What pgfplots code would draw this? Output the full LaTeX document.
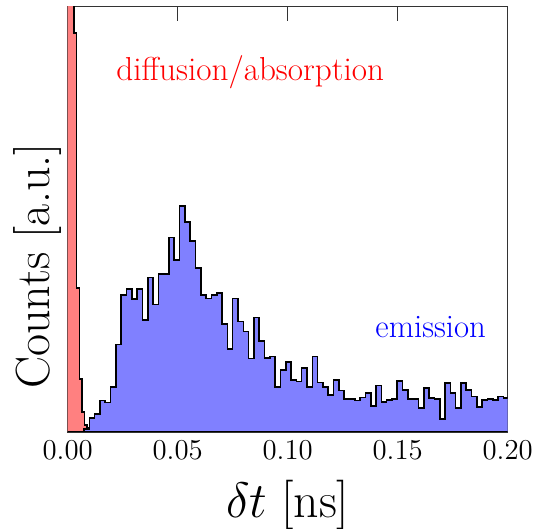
\documentclass[border=0pt]{standalone}
\usepackage{pgfplots}
\pgfplotsset{compat=1.18}
\definecolor{histred}{RGB}{255,128,128}
\definecolor{histblue}{RGB}{128,128,255}
\begin{document}
\begin{tikzpicture}
\useasboundingbox (-33.85pt,-48.5pt) rectangle (234.15pt,216pt);
\begin{axis}[
  at={(0,0)}, anchor=south west,
  scale only axis, width=220pt, height=212.75pt,
  xmin=0, xmax=0.2, ymin=0, ymax=425.5,
  xtick={0,0.05,0.1,0.15,0.2},
  ytick=\empty,
  tick align=inside,
  major tick length=7.5pt,
  scaled x ticks=false,
  xticklabel style={font=\fontsize{14.7}{17}\selectfont, yshift=-1pt, /pgf/number format/fixed, /pgf/number format/fixed zerofill, /pgf/number format/precision=2},
  axis line style={line width=0.6pt, black!80},
  every tick/.style={line width=0.6pt, black!80},
  xlabel={$\delta t\ [\mathrm{ns}]$},
  xlabel style={font=\fontsize{23.5}{26}\selectfont, at={(axis description cs:0.5,0)}, anchor=base, yshift=-43pt},
  ylabel={Counts [a.u.]},
  ylabel style={font=\fontsize{24}{27}\selectfont, at={(axis description cs:0,0.39)}, anchor=base, rotate=0, yshift=9pt},
  clip=true,
]
\addplot[const plot, fill=histred, draw=black, line width=0.8pt] coordinates {
(-0.001,800) (0.00287,399) (0.00408,144) (0.00528,53) (0.00649,20) (0.0077,7) (0.0089,3.7) (0.0101,1.5) (0.0113,0.5) (0.0125,0)
} \closedcycle;
\addplot[const plot, fill=histblue, draw=black, line width=0.8pt] coordinates {
(0.00743,3) (0.00984,13.7) (0.01225,17.7) (0.01466,31.3) (0.01708,29.3) (0.01949,44.7)
(0.02190,87.3) (0.02432,137) (0.02673,142.7) (0.02914,133) (0.03156,142.7)
(0.03397,112) (0.03638,154.3) (0.03880,127.3) (0.04121,157.7) (0.04362,157.7)
(0.04604,194.3) (0.04845,172) (0.05086,225.7) (0.05327,209.7) (0.05569,191)
(0.05810,163.7) (0.06051,137) (0.06293,133.3) (0.06534,137) (0.06775,138.7)
(0.07017,108) (0.07258,83) (0.07499,133.3) (0.07741,110.3) (0.07982,100.3)
(0.08223,73.3) (0.08464,114.3) (0.08706,91) (0.08947,73.7) (0.09188,75.3)
(0.09430,44.7) (0.09671,62) (0.09912,69.7) (0.10154,52) (0.10395,50.3)
(0.10636,63.7) (0.10878,44.7) (0.11119,75.3) (0.11360,49.3) (0.11601,44.7)
(0.11843,37) (0.12084,52) (0.12325,41.3) (0.12567,33) (0.12808,33)
(0.13049,31.5) (0.13291,34.3) (0.13532,38.7) (0.13773,26) (0.14015,46.3)
(0.14256,30) (0.14497,32) (0.14739,33) (0.14980,50.7) (0.15221,42)
(0.15462,33) (0.15704,32.7) (0.15945,23.7) (0.16186,43.7) (0.16428,34)
(0.16669,32.7) (0.16910,12.7) (0.17152,48.7) (0.17393,38.7) (0.17634,23.7)
(0.17876,48.7) (0.18117,42) (0.18358,35.3) (0.18599,24.7) (0.18841,32)
(0.19082,32.7) (0.19323,32) (0.19565,35.3) (0.19806,33.7) (0.20047,33.7)
} \closedcycle;
\node[red, font=\fontsize{16.6}{19}\selectfont, anchor=base] at (axis cs:0.083,351.7) {diffusion/absorption};
\node[blue, font=\fontsize{16.4}{19}\selectfont, anchor=base] at (axis cs:0.165,94) {emission};
\end{axis}
\end{tikzpicture}
\end{document}
